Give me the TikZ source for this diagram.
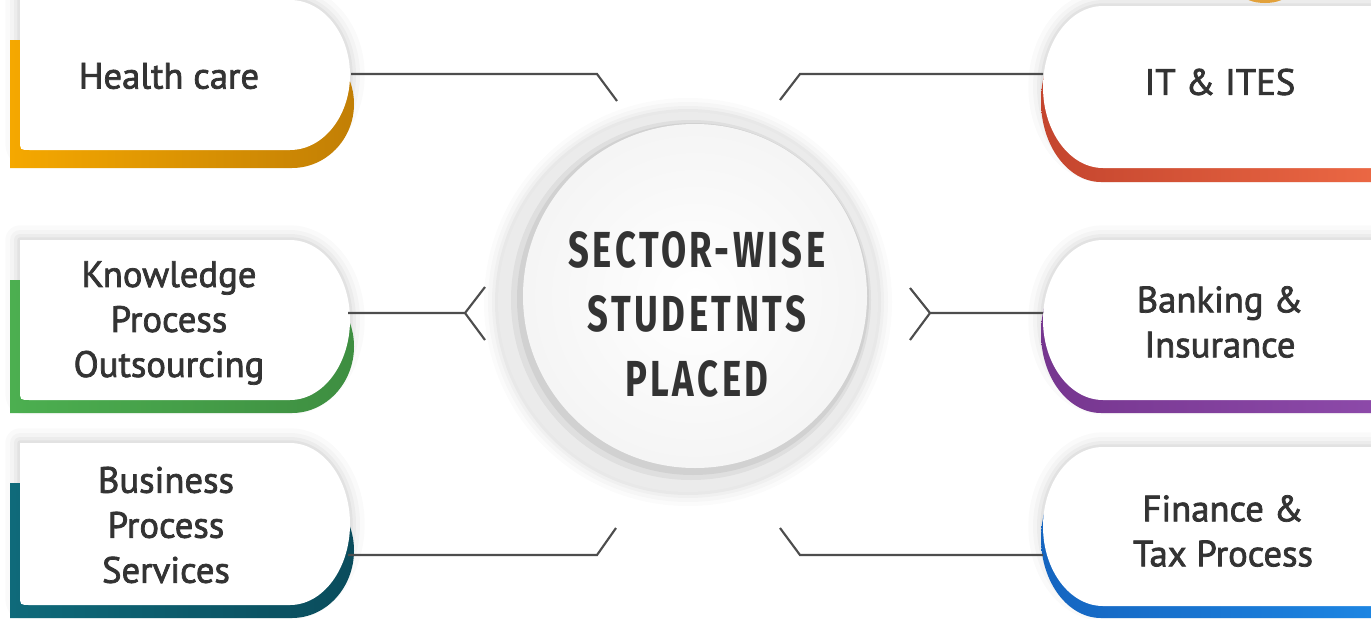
\documentclass[tikz,border=0pt]{standalone}
\usepackage{fontspec}
\setmainfont{PT Sans}
\newfontfamily\boxfont[FakeBold=2]{PT Sans}
\newfontfamily\titlefont[FakeStretch=0.72,LetterSpace=7]{Fira Sans}
\definecolor{txt}{HTML}{333333}
\definecolor{linegray}{HTML}{4D4D4D}
\definecolor{ringgray}{HTML}{EBEBEB}
\definecolor{hcA}{HTML}{F5A800}\definecolor{hcB}{HTML}{C27F05}
\definecolor{kpA}{HTML}{4CAF50}\definecolor{kpB}{HTML}{3E8E41}
\definecolor{bpA}{HTML}{0F6A7A}\definecolor{bpB}{HTML}{0A4C5C}
\definecolor{itA}{HTML}{C4452E}\definecolor{itB}{HTML}{EE6A45}
\definecolor{biA}{HTML}{76368F}\definecolor{biB}{HTML}{8E4BAB}
\definecolor{ftA}{HTML}{1565C0}\definecolor{ftB}{HTML}{1E88E5}
\definecolor{orangeS}{HTML}{F5B041}

% left box: #1 top, #2 bottom, #3 coloured bottom, #4 colour A, #5 colour B
\newcommand\LeftBox[5]{%
  \pgfmathsetmacro\lbM{(#1+#2)/2}%
  \pgfmathsetmacro\lbU{\lbM-0.552*(\lbM-#1)}%
  \pgfmathsetmacro\lbD{\lbM+0.552*(#2-\lbM)}%
  \pgfmathsetmacro\lcT{#1+40}%
  \pgfmathsetmacro\lcM{(\lcT+#3)/2}%
  \pgfmathsetmacro\lcU{\lcM-0.552*(\lcM-\lcT)}%
  \pgfmathsetmacro\lcD{\lcM+0.552*(#3-\lcM)}%
  \foreach \w/\o in {22/0.02,15/0.025,9/0.03,4/0.04}{%
    \draw[line width=\w pt, black, opacity=\o, line join=round]
      (20,#1) -- (290,#1) .. controls (323,#1) and (350,\lbU) .. (350,\lbM)
      .. controls (350,\lbD) and (323,#2) .. (290,#2) -- (30,#2)
      .. controls (20,#2) .. (20,#2-10) -- cycle;}
  \shade[left color=#4, right color=#5]
    (10,\lcT) -- (292,\lcT) .. controls (326,\lcT) and (354,\lcU) .. (354,\lcM)
    .. controls (354,\lcD) and (326,#3) .. (292,#3) -- (10,#3) -- cycle;
  \fill[white]
    (20,#1) -- (290,#1) .. controls (323,#1) and (350,\lbU) .. (350,\lbM)
    .. controls (350,\lbD) and (323,#2) .. (290,#2) -- (30,#2)
    .. controls (20,#2) .. (20,#2-10) -- cycle;
}
% right box: #1 top, #2 bottom, #3 coloured bottom, #4 colour A, #5 colour B
\newcommand\RightBox[5]{%
  \pgfmathsetmacro\rbM{(#1+#2)/2}%
  \pgfmathsetmacro\rbU{\rbM-0.552*(\rbM-#1)}%
  \pgfmathsetmacro\rbD{\rbM+0.552*(#2-\rbM)}%
  \pgfmathsetmacro\rcS{#3-#2}%
  \pgfmathsetmacro\rcT{#1+\rcS}%
  \pgfmathsetmacro\rcM{\rbM+\rcS}%
  \pgfmathsetmacro\rcU{\rbU+\rcS}%
  \pgfmathsetmacro\rcD{\rbD+\rcS}%
  \foreach \w/\o in {22/0.02,15/0.025,9/0.03,4/0.04}{%
    \draw[line width=\w pt, black, opacity=\o, line join=round]
      (1400,#1) -- (1103,#1) .. controls (1070,#1) and (1043,\rbU) .. (1043,\rbM)
      .. controls (1043,\rbD) and (1070,#2) .. (1103,#2) -- (1400,#2) -- cycle;}
  \shade[left color=#4, right color=#5]
    (1400,\rcT) -- (1101,\rcT) .. controls (1068,\rcT) and (1041,\rcU) .. (1041,\rcM)
    .. controls (1041,\rcD) and (1068,#3) .. (1101,#3) -- (1400,#3) -- cycle;
  \fill[white]
    (1400,#1) -- (1103,#1) .. controls (1070,#1) and (1043,\rbU) .. (1043,\rbM)
    .. controls (1043,\rbD) and (1070,#2) .. (1103,#2) -- (1400,#2) -- cycle;
}

\begin{document}
\begin{tikzpicture}[x=0.75pt,y=-0.75pt,
  conn/.style={draw=linegray, line width=1.6pt, line join=miter},
  boxtext/.style={text=txt, font=\boxfont\fontsize{27.5}{33.75}\selectfont, align=center, inner sep=0pt},
  titletext/.style={text=txt, font=\titlefont\bfseries\fontsize{38}{48.4}\selectfont, align=center, inner sep=0pt}]
\useasboundingbox (0,0) rectangle (1371,618);
\clip (0,0) rectangle (1371,618);
\fill[white] (0,0) rectangle (1371,618);

% small orange shape at the top edge
\fill[orangeS] (1265,-6) ellipse (22 and 9);

% central circle
\foreach \r/\o in {204/0.015,200/0.02,196/0.025,193/0.03}{\fill[black,opacity=\o] (688,302) circle (\r);}
\fill[ringgray] (688,302) circle (190);
\fill[black,opacity=0.05] (691,300) circle (180);
\fill[black,opacity=0.06] (693,299) circle (176);
\shade[inner color=white, outer color=gray!8] (695,296) circle (172);
\node[titletext] (ctr) at (697,314) {SECTOR-WISE\\STUDETNTS\\PLACED};

% boxes
\LeftBox{0}{150}{168}{hcA}{hcB}
\LeftBox{240}{400}{413}{kpA}{kpB}
\LeftBox{443}{605}{618}{bpA}{bpB}
\RightBox{6}{168}{182}{itA}{itB}
\RightBox{240}{400}{413}{biA}{biB}
\RightBox{447}{606}{618}{ftA}{ftB}

% texts
\node[boxtext] (hc) at (169,76) {Health care};
\node[boxtext] (kpo) at (169,323) {Knowledge\\Process\\Outsourcing};
\node[boxtext] (bps) at (166,525) {Business\\Process\\Services};
\node[boxtext] (itn) at (1220,82) {IT \& ITES};
\node[boxtext] (bi) at (1220,322) {Banking \&\\Insurance};
\node[boxtext] (ftp) at (1223,531) {Finance \&\\Tax Process};

% connector anchors
\coordinate (hcE) at (351,74);  \coordinate (hcT) at (617,101);
\coordinate (kpE) at (348,313); \coordinate (kpV) at (465,313);
\coordinate (kpU) at (485,287); \coordinate (kpD) at (485,340);
\coordinate (bpE) at (348,555); \coordinate (bpT) at (616,528);
\coordinate (itE) at (1043,74); \coordinate (itT) at (780,100);
\coordinate (biE) at (1043,313); \coordinate (biV) at (930,313);
\coordinate (biU) at (910,288); \coordinate (biD) at (910,340);
\coordinate (ftE) at (1043,555); \coordinate (ftT) at (780,528);

\draw[conn] (hcE) -- (597,74) -- (hcT);
\draw[conn] (kpE) -- (kpV) -- (kpU);
\draw[conn] (kpV) -- (kpD);
\draw[conn] (bpE) -- (597,555) -- (bpT);
\draw[conn] (itE) -- (800,74) -- (itT);
\draw[conn] (biE) -- (biV) -- (biU);
\draw[conn] (biV) -- (biD);
\draw[conn] (ftE) -- (800,555) -- (ftT);
\end{tikzpicture}
\end{document}
